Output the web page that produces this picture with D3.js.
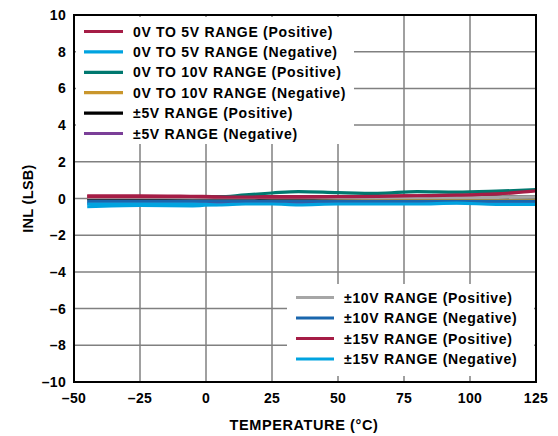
<!DOCTYPE html>
<html><head><meta charset="utf-8">
<script src="https://cdn.jsdelivr.net/npm/d3@7"></script>
<style>body{margin:0;background:#fff}svg{display:block}text{font-family:"Liberation Sans",Arial,sans-serif;font-weight:bold}</style>
</head><body><svg id="c" width="558" height="436"></svg>
<script>
const temps = [-45, -25, -5, 5, 15, 25, 35, 50, 65, 80, 95, 110, 125];
const pos05  = [0.15, 0.15, 0.12, 0.1, 0.1, 0.1, 0.1, 0.1, 0.12, 0.15, 0.18, 0.25, 0.45];
const neg05  = [-0.45, -0.38, -0.4, -0.32, -0.25, -0.22, -0.25, -0.25, -0.2, -0.15, -0.18, -0.25, -0.28];
const pos010 = [0.05, 0.02, 0.05, 0.08, 0.2, 0.3, 0.38, 0.32, 0.28, 0.38, 0.35, 0.4, 0.48];
const neg010 = [-0.05, -0.05, -0.05, -0.05, -0.05, -0.05, -0.05, -0.05, -0.03, -0.03, -0.03, -0.02, 0.0];
const pos5   = [0.0, 0.0, 0.0, 0.0, 0.0, 0.02, 0.02, 0.05, 0.06, 0.07, 0.07, 0.08, 0.08];
const neg5   = [-0.25, -0.25, -0.25, -0.25, -0.25, -0.25, -0.25, -0.25, -0.25, -0.22, -0.22, -0.22, -0.2];
const pos10  = [0.05, 0.05, 0.03, 0.03, 0.03, 0.05, 0.05, 0.05, 0.05, 0.06, 0.06, 0.06, 0.08];
const neg10  = [-0.15, -0.15, -0.15, -0.15, -0.15, -0.15, -0.15, -0.15, -0.15, -0.15, -0.15, -0.15, -0.15];
const pos15  = [0.1, 0.1, 0.1, 0.08, 0.08, 0.08, 0.08, 0.1, 0.12, 0.15, 0.18, 0.25, 0.42];
const neg15  = [-0.3, -0.3, -0.3, -0.35, -0.3, -0.3, -0.35, -0.3, -0.3, -0.3, -0.25, -0.32, -0.32];

const legend1 = ["0V TO 5V RANGE (Positive)","0V TO 5V RANGE (Negative)","0V TO 10V RANGE (Positive)","0V TO 10V RANGE (Negative)","±5V RANGE (Positive)","±5V RANGE (Negative)"];
const legend2 = ["±10V RANGE (Positive)","±10V RANGE (Negative)","±15V RANGE (Positive)","±15V RANGE (Negative)"];
const colors = ["#a51d46","#00a3e0","#00786f","#c9962c","#000000","#7b3f98","#a6a6a6","#1a66ad","#a51d46","#00a3e0"];
const seriesVals = [pos05, neg05, pos010, neg010, pos5, neg5, pos10, neg10, pos15, neg15];
const xTicks = [-50,-25,0,25,50,75,100,125];
const yTicks = [-10,-8,-6,-4,-2,0,2,4,6,8,10];

const svg = d3.select("#c");
const L=74, R=536, T=15, B=382;
const x = d3.scaleLinear().domain([-50,125]).range([L,R]);
const y = d3.scaleLinear().domain([-10,10]).range([B,T]);

// grid
svg.append("g").selectAll("line").data(xTicks.slice(1,-1)).join("line")
  .attr("x1",d=>x(d)).attr("x2",d=>x(d)).attr("y1",T).attr("y2",B)
  .attr("stroke","#808080").attr("stroke-width",1.5);
svg.append("g").selectAll("line").data(yTicks.slice(1,-1)).join("line")
  .attr("x1",L).attr("x2",R).attr("y1",d=>y(d)).attr("y2",d=>y(d))
  .attr("stroke","#808080").attr("stroke-width",1.5);

// lines
const line = d3.line().x(d=>x(d[0])).y(d=>y(d[1])).curve(d3.curveMonotoneX);
seriesVals.forEach((v,i)=>{
  svg.append("path").datum(temps.map((t,j)=>[t,v[j]]))
    .attr("d",line).attr("fill","none").attr("stroke",colors[i]).attr("stroke-width",3.2);
});

// legends
function legend(items, cols, bx, by, bw, bh, lx0, lx1, tx, ry0, dy){
  svg.append("rect").attr("x",bx).attr("y",by).attr("width",bw).attr("height",bh).attr("fill","#fff");
  items.forEach((s,i)=>{
    const yy = ry0 + i*dy;
    svg.append("line").attr("x1",lx0).attr("x2",lx1).attr("y1",yy).attr("y2",yy)
      .attr("stroke",cols[i]).attr("stroke-width",3.2);
    svg.append("text").attr("x",tx).attr("y",yy).attr("dy","0.36em")
      .attr("font-size",14).attr("letter-spacing",0.7).attr("fill","#000").text(s);
  });
}
legend(legend1, colors.slice(0,6), 76, 17, 278, 127, 84, 123, 133, 31.5, 20.4);
legend(legend2, colors.slice(6), 287, 284, 247, 92, 296, 334, 344, 297.5, 20.5);

// frame
svg.append("rect").attr("x",L).attr("y",T).attr("width",R-L).attr("height",B-T)
  .attr("fill","none").attr("stroke","#000").attr("stroke-width",2);

// tick labels
svg.append("g").selectAll("text").data(xTicks).join("text")
  .attr("x",d=>x(d)).attr("y",398).attr("dy","0.36em").attr("text-anchor","middle")
  .attr("font-size",14).attr("letter-spacing",0.3).text(d=>d<0?"\u2013"+Math.abs(d):d);
svg.append("g").selectAll("text").data(yTicks).join("text")
  .attr("x",66).attr("y",d=>y(d)).attr("dy","0.36em").attr("text-anchor","end")
  .attr("font-size",14).attr("letter-spacing",0.3).text(d=>d<0?"\u2013"+Math.abs(d):d);

// titles
svg.append("text").attr("x",304).attr("y",425).attr("dy","0.36em").attr("text-anchor","middle")
  .attr("font-size",14.5).attr("letter-spacing",0.6).text("TEMPERATURE (°C)");
svg.append("text").attr("transform",`translate(28,${(T+B)/2}) rotate(-90)`).attr("dy","0.36em")
  .attr("text-anchor","middle").attr("font-size",14.5).attr("letter-spacing",0.3).text("INL (LSB)");
</script></body></html>
